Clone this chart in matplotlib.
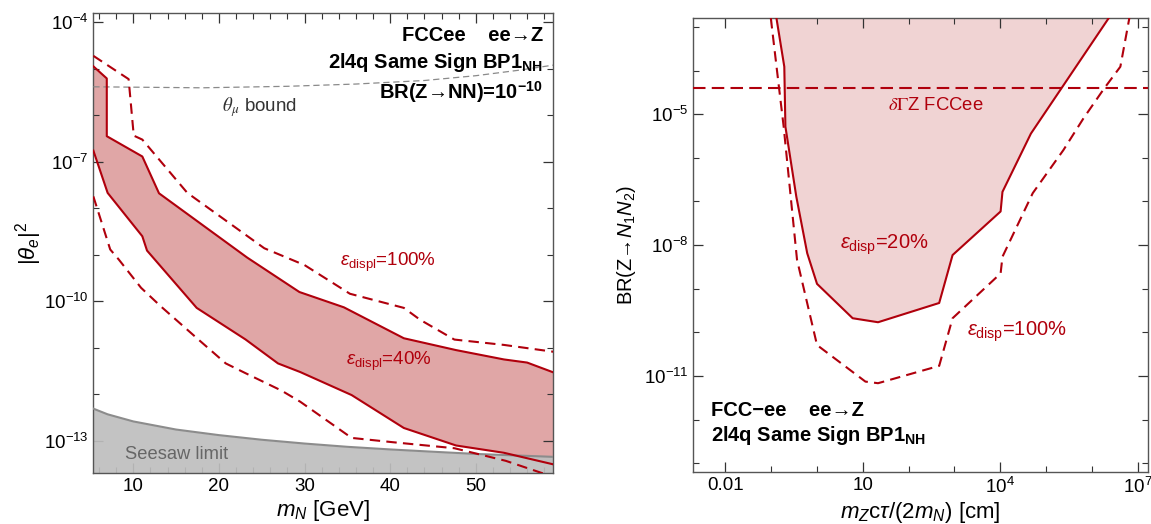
import numpy as np
import matplotlib
matplotlib.use("Agg")
import matplotlib.pyplot as plt
from matplotlib.ticker import NullFormatter

plt.rcParams['font.family'] = ['Liberation Sans', 'DejaVu Sans']
plt.rcParams['mathtext.fontset'] = 'custom'
plt.rcParams['mathtext.rm'] = 'Liberation Sans'
plt.rcParams['mathtext.it'] = 'Liberation Sans:italic'
plt.rcParams['mathtext.bf'] = 'Liberation Sans:bold'

# ---- left panel: |theta_e|^2 vs m_N ----
m_40_up = [5.33, 6.9, 6.9, 11.05, 13.0, 23.3, 29.4, 34.6, 41.6, 47.7, 53.3, 56.0, 59.07]
th_40_up = [1.13e-5, 6.2e-6, 3.55e-7, 1.3e-7, 2.1e-8, 8.7e-10, 1.58e-10, 7.4e-11,
            1.6e-11, 8.9e-12, 5.6e-12, 4.8e-12, 2.95e-12]
m_40_lo = [5.33, 7.0, 11.05, 11.6, 17.4, 23.1, 26.9, 29.5, 35.5, 41.6, 47.7, 53.3, 59.07]
th_40_lo = [1.74e-7, 2.14e-8, 2.5e-9, 1.23e-9, 7.2e-11, 1.51e-11, 4.6e-12, 3.0e-12,
            9.6e-13, 1.88e-13, 7.9e-14, 5.5e-14, 3.1e-14]

m_100_up = [5.33, 9.45, 10.05, 11.05, 16.3, 25.3, 30.0, 35.3, 41.6, 43.5, 47.5, 53.3, 59.07]
th_100_up = [1.9e-5, 6.0e-6, 3.65e-7, 3.0e-7, 2.15e-8, 1.38e-9, 6.0e-10, 1.45e-10,
             7.2e-11, 4.0e-11, 1.5e-11, 1.15e-11, 8.2e-12]
m_100_lo = [5.33, 7.3, 8.3, 10.9, 13.2, 17.4, 20.8, 23.0, 27.3, 29.5, 35.5, 40.3,
            47.5, 53.5, 58.3]
th_100_lo = [1.8e-8, 1.3e-9, 7.9e-10, 1.95e-10, 7.8e-11, 1.62e-11, 4.6e-12, 2.9e-12,
             1.2e-12, 6.9e-13, 1.15e-13, 9.3e-14, 6.9e-14, 3.7e-14, 1.86e-14]

m_seesaw = [5.33, 7, 10, 15, 20, 25, 30, 35, 40, 45, 50, 55, 59.07]
th_seesaw = [4.9e-13, 3.7e-13, 2.6e-13, 1.74e-13, 1.32e-13, 1.05e-13, 8.7e-14,
             7.4e-14, 6.5e-14, 5.8e-14, 5.2e-14, 4.8e-14, 4.5e-14]

m_mu = [5.33, 18, 28, 36, 44, 50, 55, 59.07]
th_mu = [4.1e-6, 3.9e-6, 4.2e-6, 4.7e-6, 5.6e-6, 7.1e-6, 9.3e-6, 1.2e-5]

# ---- right panel: BR(Z->N1N2) vs decay length ----
ct_20 = [0.130, 0.193, 0.204, 0.353, 0.611, 1.0, 6.0, 21.5, 465, 912, 10200, 11200,
         46800, 2.34e6]
br_20 = [1.6e-3, 1.23e-4, 5.2e-6, 1.29e-7, 6.5e-9, 1.29e-9, 2.1e-10, 1.7e-10,
         4.7e-10, 5.9e-9, 5.9e-8, 1.66e-7, 3.6e-6, 1.6e-3]
ct_100 = [0.098, 0.15, 0.187, 0.366, 1.0, 11.4, 21.5, 465, 912, 10200, 11200, 51300,
          2.4e5, 6.6e5, 1.86e6, 4.2e6, 6.6e6]
br_100 = [1.6e-3, 3.6e-5, 5.2e-6, 4.6e-9, 5.1e-11, 7.4e-12, 6.8e-12, 1.7e-11, 2.1e-10,
          2.24e-9, 5.4e-9, 1.55e-7, 1.51e-6, 8.1e-6, 3.9e-5, 1.23e-4, 1.6e-3]
br_dgz = 3.9e-5

dark_red = '#b0000c'
frame_col = '#555555'
dash = (0, (5, 3))

fig = plt.figure(figsize=(11.51, 5.24), dpi=100)
ax1 = fig.add_axes([0.0811, 0.0968, 0.3997, 0.8775])
ax2 = fig.add_axes([0.6024, 0.0987, 0.3946, 0.8664])

# left panel
ax1.set_yscale('log')
ax1.set_xlim(5.33, 59.07)
ax1.set_ylim(10**-13.70, 10**-3.81)

m_band = np.concatenate([m_40_up, m_40_lo[::-1]])
th_band = np.concatenate([th_40_up, th_40_lo[::-1]])
ax1.fill(m_band, th_band, color='#e0a6a6', lw=0, zorder=1)
ax1.fill_between(m_seesaw, 1e-16, th_seesaw, color='#bebebe', alpha=0.92, lw=0, zorder=2)
ax1.plot(m_seesaw, th_seesaw, color='#8c8c8c', lw=1.5, zorder=3)
ax1.plot(m_mu, th_mu, color='#8a8a8a', lw=0.9, ls=dash, zorder=3)

ax1.plot(m_40_up, th_40_up, color=dark_red, lw=1.5, zorder=4)
ax1.plot(m_40_lo, th_40_lo, color=dark_red, lw=1.5, zorder=4)
ax1.plot(m_100_up, th_100_up, color=dark_red, lw=1.5, ls=dash, zorder=4)
ax1.plot(m_100_lo, th_100_lo, color=dark_red, lw=1.5, ls=dash, zorder=4)

ax1.set_xticks([10, 20, 30, 40, 50])
ax1.set_xticks(np.arange(6, 60, 2), minor=True)
ax1.set_yticks([1e-13, 1e-10, 1e-7, 1e-4],
               [r'$10^{-13}$', r'$10^{-10}$', r'$10^{-7}$', r'$10^{-4}$'])
ax1.set_yticks([10.0**k for k in range(-13, -3)], minor=True)
ax1.yaxis.set_minor_formatter(NullFormatter())

ax1.set_xlabel(r'$m_N$ [GeV]', fontsize=16, labelpad=2)
ax1.set_ylabel(r'$|\theta_e|^2$', fontsize=16, labelpad=0)

ax1.text(0.977, 0.953, 'FCCee    ee→Z', transform=ax1.transAxes, ha='right',
         va='center', fontsize=14.5, fontweight='bold')
ax1.text(0.977, 0.893, r'2l4q Same Sign BP1$_{\mathbf{NH}}$', transform=ax1.transAxes,
         ha='right', va='center', fontsize=14.5, fontweight='bold')
ax1.text(0.977, 0.830, r'BR(Z→NN)=10$^{\mathbf{-10}}$', transform=ax1.transAxes,
         ha='right', va='center', fontsize=14.5, fontweight='bold')
ax1.text(0.361, 0.797, r'$\theta_\mu$ bound', transform=ax1.transAxes, ha='center',
         va='center', fontsize=13.5, color='#333333', math_fontfamily='stix')
ax1.text(34.2, 10**-9.17, r'$\epsilon_{\rm displ}$=100%', ha='left', va='center',
         fontsize=13.5, color=dark_red)
ax1.text(34.8, 10**-11.30, r'$\epsilon_{\rm displ}$=40%', ha='left', va='center',
         fontsize=13.5, color=dark_red)
ax1.text(9.0, 10**-13.29, 'Seesaw limit', ha='left', va='center', fontsize=13.2,
         color='#666666', zorder=5)

# right panel
ax2.set_xscale('log')
ax2.set_yscale('log')
ax2.set_xlim(10**-2.70, 10**7.217)
ax2.set_ylim(10**-13.21, 10**-2.80)

ax2.fill(ct_20, br_20, color='#f0d3d3', lw=0, zorder=1)
ax2.plot(ct_20, br_20, color=dark_red, lw=1.5, zorder=4)
ax2.plot(ct_100, br_100, color=dark_red, lw=1.5, ls=dash, zorder=4)
ax2.axhline(br_dgz, color=dark_red, lw=1.5, ls=(0, (6, 3)), zorder=4)

ax2.set_xticks([1e-2, 1e1, 1e4, 1e7], ['0.01', '10', r'$10^4$', r'$10^7$'])
ax2.set_xticks([10.0**k for k in range(-2, 8)], minor=True)
ax2.xaxis.set_minor_formatter(NullFormatter())
ax2.set_yticks([1e-11, 1e-8, 1e-5], [r'$10^{-11}$', r'$10^{-8}$', r'$10^{-5}$'])
ax2.set_yticks([10.0**k for k in range(-13, -2)], minor=True)
ax2.yaxis.set_minor_formatter(NullFormatter())

ax2.set_xlabel(r'$m_Z\mathrm{c}\tau/(2m_N)$ [cm]', fontsize=16, labelpad=2)
ax2.set_ylabel(r'BR(Z→$N_1N_2$)', fontsize=14.5, labelpad=4)

ax2.text(10**2.59, 10**-4.81, r'$\delta\Gamma$Z FCCee', ha='center', va='center',
         fontsize=13.3, color=dark_red, math_fontfamily='stix')
ax2.text(10**1.475, 10**-8.0, r'$\epsilon_{\rm disp}$=20%', ha='center', va='center',
         fontsize=14.5, color=dark_red)
ax2.text(10**4.37, 10**-9.99, r'$\epsilon_{\rm disp}$=100%', ha='center', va='center',
         fontsize=14.5, color=dark_red)
ax2.text(10**-2.32, 10**-11.80, 'FCC−ee    ee→Z', ha='left', va='center',
         fontsize=14.5, fontweight='bold')
ax2.text(10**-2.32, 10**-12.36, r'2l4q Same Sign BP1$_{\mathbf{NH}}$', ha='left',
         va='center', fontsize=14.5, fontweight='bold')

for ax in (ax1, ax2):
    for sp in ax.spines.values():
        sp.set_color(frame_col)
        sp.set_linewidth(1.0)
    ax.tick_params(which='both', direction='in', top=True, right=True,
                   color='#333333', labelsize=13.5)
    ax.tick_params(which='major', length=7, width=0.9)
    ax.tick_params(which='minor', length=4, width=0.8)

fig.savefig('out.png', dpi=100)
